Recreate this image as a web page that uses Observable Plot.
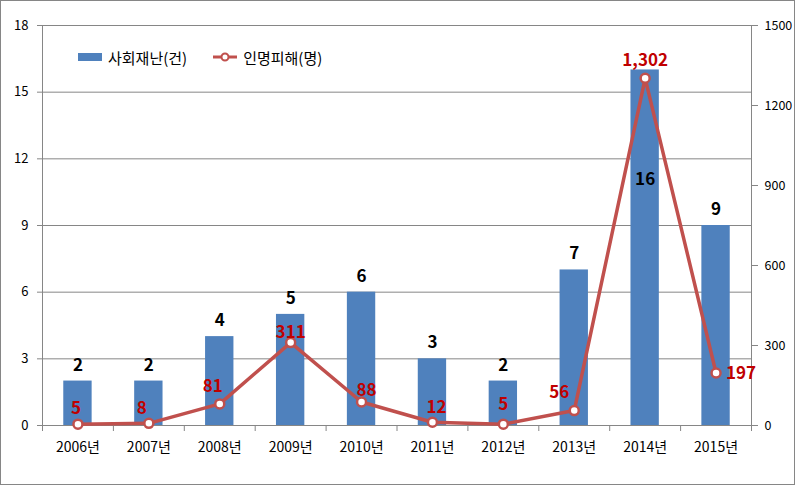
<!DOCTYPE html>
<html><head><meta charset="utf-8">
<script src="https://cdn.jsdelivr.net/npm/d3@7"></script>
<script src="https://cdn.jsdelivr.net/npm/@observablehq/plot@0.6"></script>
<style>
body{margin:0;background:#fff;font-family:"Noto Sans CJK KR","Noto Sans",sans-serif}
#wrap{position:relative;width:797px;height:486px;overflow:hidden}
#border{position:absolute;left:0;top:0;width:793px;height:483px;border:1px solid #868686;pointer-events:none}
#legend{position:absolute;left:78px;top:45px;height:24px;display:flex;align-items:center;font-size:15px;color:#000;white-space:nowrap}
#legend .item{display:flex;align-items:center}
#legend svg{display:block}
</style>
</head><body>
<div id="wrap"><div id="chart"></div><div id="border"></div>
<div id="legend">
  <div class="item"><svg width="24" height="10"><rect x="0" y="1" width="24" height="8" fill="#4F81BD"/></svg><span style="margin-left:6px">사회재난(건)</span></div>
  <div class="item" style="margin-left:26px"><svg width="24" height="12"><line x1="0" x2="24" y1="6" y2="6" stroke="#C0504D" stroke-width="3"/><circle cx="12" cy="6" r="3.5" fill="#fff" stroke="#C0504D" stroke-width="2"/></svg><span style="margin-left:6px">인명피해(명)</span></div>
</div>
</div>
<script>
const years = ["2006년","2007년","2008년","2009년","2010년","2011년","2012년","2013년","2014년","2015년"];
const incidents = [2,2,4,5,6,3,2,7,16,9];
const casualties = [5,8,81,311,88,12,5,56,1302,197];
const leftTicks = [0,3,6,9,12,15,18];
const rightTicks = [0,300,600,900,1200,1500];

// label placement (style config, pixels)
const barLabelDy = [-16,-16,-16,-16,-16,-16,-16,-16,110,-16];
const lineLabelOffsets = [[-2,-16],[-7,-15],[-7,-17],[0,-10],[5,-11],[4,-15],[0,-20],[-15,-18],[0,-18],[25,1]];

const ratio = 1500 / 18;
const data = years.map((y, i) => ({i, year: y, n: incidents[i], c: casualties[i], cy: casualties[i] / ratio}));
const idx = years.map((_, i) => i);
const bounds = d3.range(-0.5, years.length, 1);
const barHalf = 0.2;
const fmt = d3.format(",");
const grid = "#868686";

const barLabels = data.map((d, k) => Plot.text([d], {x: "i", y: "n", text: d => String(d.n), dy: barLabelDy[k], fontSize: 17, fontWeight: "bold", fill: "#000"}));
const lineLabels = data.map((d, k) => Plot.text([d], {x: "i", y: "cy", text: d => fmt(d.c), dx: lineLabelOffsets[k][0], dy: lineLabelOffsets[k][1], fontSize: 17, fontWeight: "bold", fill: "#C00000"}));

const chart = Plot.plot({
  width: 797,
  height: 486,
  marginLeft: 42,
  marginRight: 46,
  marginTop: 25,
  marginBottom: 61,
  style: {fontFamily: '"Noto Sans CJK KR","Noto Sans",sans-serif', fontSize: "13px", background: "transparent", color: "#000"},
  x: {type: "linear", domain: [-0.5, years.length - 0.5]},
  y: {domain: [0, 18]},
  marks: [
    Plot.ruleY(leftTicks.slice(1), {stroke: grid, strokeWidth: 1}),
    Plot.rectY(data, {x1: d => d.i - barHalf, x2: d => d.i + barHalf, y1: 0, y2: "n", fill: "#4F81BD"}),
    Plot.ruleY([0], {stroke: grid}),
    Plot.ruleX([-0.5, years.length - 0.5], {stroke: grid}),
    Plot.axisY({anchor: "left", ticks: leftTicks, tickSize: 5, tickPadding: 9, stroke: grid, fill: "#000", fontSize: 13, label: null}),
    Plot.axisY({anchor: "right", ticks: rightTicks.map(v => v / ratio), tickFormat: d => String(Math.round(d * ratio)), tickSize: 6, tickPadding: 7, stroke: grid, fill: "#000", fontSize: 12.5, label: null}),
    Plot.axisX({ticks: bounds, tickFormat: () => "", tickSize: 6, stroke: grid, label: null}),
    Plot.axisX({ticks: idx, tickFormat: i => years[i], tickSize: 0, tickPadding: 17, fill: "#000", fontSize: 14, label: null}),
    Plot.line(data, {x: "i", y: "cy", stroke: "#C0504D", strokeWidth: 3.5}),
    Plot.dot(data, {x: "i", y: "cy", r: 4.5, fill: "#fff", stroke: "#C0504D", strokeWidth: 2.5}),
    ...barLabels,
    ...lineLabels
  ]
});
document.getElementById("chart").appendChild(chart);
</script>
</body></html>
